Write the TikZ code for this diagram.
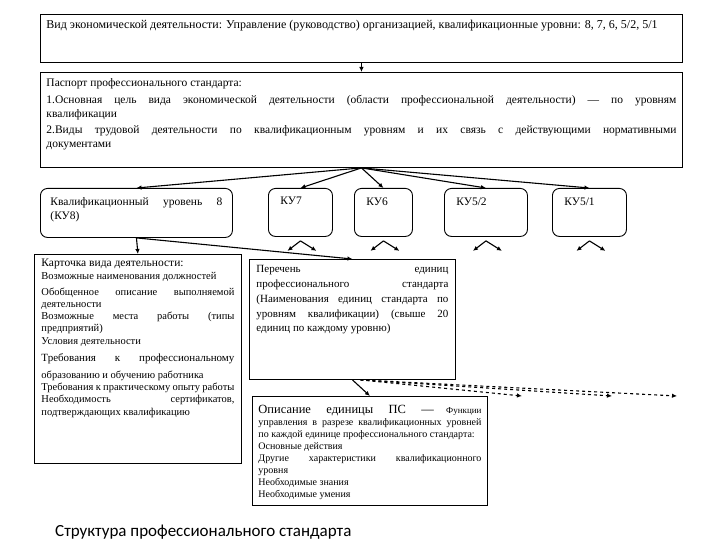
\documentclass[tikz,border=0pt]{standalone}
\usepackage{fontspec}
\setmainfont{Liberation Serif}
\newfontfamily\titlefont{Carlito}
\usetikzlibrary{arrows.meta}
\hyphenpenalty=10000
\tolerance=10000
\hbadness=10000

\begin{document}
\begin{tikzpicture}[x=1pt,y=1pt]
		\tikzstyle{every node}+=[inner sep=0pt]
		\tikzstyle{pbox}=[draw=black, line width=0.9pt, anchor=north west, inner sep=6pt]
		\tikzstyle{kubox}=[pbox, rounded corners=7pt, inner xsep=12pt, inner ysep=9pt]
		\tikzstyle{link}=[black, line width=1.1pt, -{Latex[length=5pt,width=4.5pt]}]
		\tikzstyle{dlink}=[link, dashed]
		\useasboundingbox (0,0) rectangle (720,-540);
		% top row
		\node [pbox] (vid) at (40,-14) {\parbox[t][36pt][t]{630pt}{\fontsize{12}{14}\selectfont
			Вид экономической деятельности: Управление (руководство) организацией, квалификационные уровни: 8, 7, 6, 5/2, 5/1}};
		\node [pbox] (pass) at (40,-72) {\parbox[t][83pt][t]{630pt}{\fontsize{11.5}{13.5}\selectfont
			Паспорт профессионального стандарта:\par\vspace{4pt}
			1.Основная цель вида экономической деятельности (области профессиональной деятельности) — по уровням\linebreak квалификации\par\vspace{3pt}
			2.Виды трудовой деятельности по квалификационным уровням и их связь с действующими нормативными\linebreak документами}};
		% qualification levels
		\node [kubox, inner xsep=10pt] (ku8) at (40,-188) {\parbox[t][31pt][t]{172pt}{\fontsize{11.5}{14}\selectfont
			Квалификационный уровень 8\linebreak (КУ8)}};
		\node [kubox] (ku7) at (268,-188) {\parbox[t][30pt][t]{40pt}{\fontsize{11.5}{14}\selectfont КУ7}};
		\node [kubox] (ku6) at (354,-188) {\parbox[t][30pt][t]{34pt}{\fontsize{11.5}{14}\selectfont КУ6}};
		\node [kubox] (ku52) at (444,-188) {\parbox[t][30pt][t]{59pt}{\fontsize{11.5}{14}\selectfont КУ5/2}};
		\node [kubox] (ku51) at (552,-188) {\parbox[t][30pt][t]{50pt}{\fontsize{11.5}{14}\selectfont КУ5/1}};
		% KU8 contents
		\node [pbox, inner xsep=7pt, inner ysep=5pt] (card) at (34,-254) {\parbox[t][199pt][t]{193pt}{\fontsize{10.5}{12.2}\selectfont
			{\fontsize{11.5}{13}\selectfont Карточка вида деятельности:}\\
			Возможные наименования должностей\par\vspace{4pt}
			Обобщенное описание выполняемой\linebreak деятельности\\
			Возможные места работы (типы\linebreak предприятий)\\
			Условия деятельности\par\vspace{5pt}
			{\fontsize{11}{12.2}\selectfont Требования к профессиональному{\parfillskip=0pt\par}}\vspace{5pt}
			образованию и обучению работника\\
			Требования к практическому опыту работы\\
			Необходимость сертификатов,\linebreak подтверждающих квалификацию}};
		\node [pbox, inner xsep=7pt] (list) at (249,-259) {\parbox[t][108pt][t]{192pt}{\fontsize{11}{14.8}\selectfont
			Перечень единиц\linebreak профессионального стандарта\linebreak (Наименования единиц стандарта по\linebreak уровням квалификации) (свыше 20\linebreak единиц по каждому уровню)}};
		\node [pbox, inner xsep=6pt, inner ysep=9pt] (unit) at (252,-396) {\parbox[t][91pt][t]{223pt}{\fontsize{10}{12}\selectfont
			{\fontsize{12.5}{13}\selectfont Описание единицы ПС —} {\fontsize{9}{12}\selectfont Функции}\linebreak
			управления в разрезе квалификационных уровней\linebreak
			по каждой единице профессионального стандарта:\\
			Основные действия\\
			Другие характеристики квалификационного\linebreak уровня\\
			Необходимые знания\\
			Необходимые умения}};
		\node [anchor=base west] (title) at (55,-536) {\titlefont\fontsize{17}{20}\selectfont Структура профессионального стандарта};
		% connectors
		\draw [link] (vid.south) -- (pass.north);
		\foreach \k in {ku8,ku7,ku6,ku52,ku51}
			\draw [link] (pass.south) -- (\k.north);
		\foreach \k in {ku7,ku6,ku52,ku51} {
			\coordinate (\k-o) at ([yshift=-4pt]\k.south);
			\coordinate (\k-l) at ([shift={(-13,-14)}]\k.south);
			\coordinate (\k-r) at ([shift={(16,-14)}]\k.south);
			\draw [link] (\k-o) -- (\k-l);
			\draw [link] (\k-o) -- (\k-r);
		}
		\draw [link] (ku8.south) -- (card.north);
		\draw [link] (ku8.south) -- (list.north);
		\draw [link] (list.south) -- (unit.north);
		\coordinate (d1) at (522,-396);
		\coordinate (d2) at (612,-396);
		\coordinate (d3) at (677,-396);
		\foreach \d in {d1,d2,d3}
			\draw [dlink] ([xshift=8pt]list.south) -- (\d);
	\end{tikzpicture}
\end{document}
